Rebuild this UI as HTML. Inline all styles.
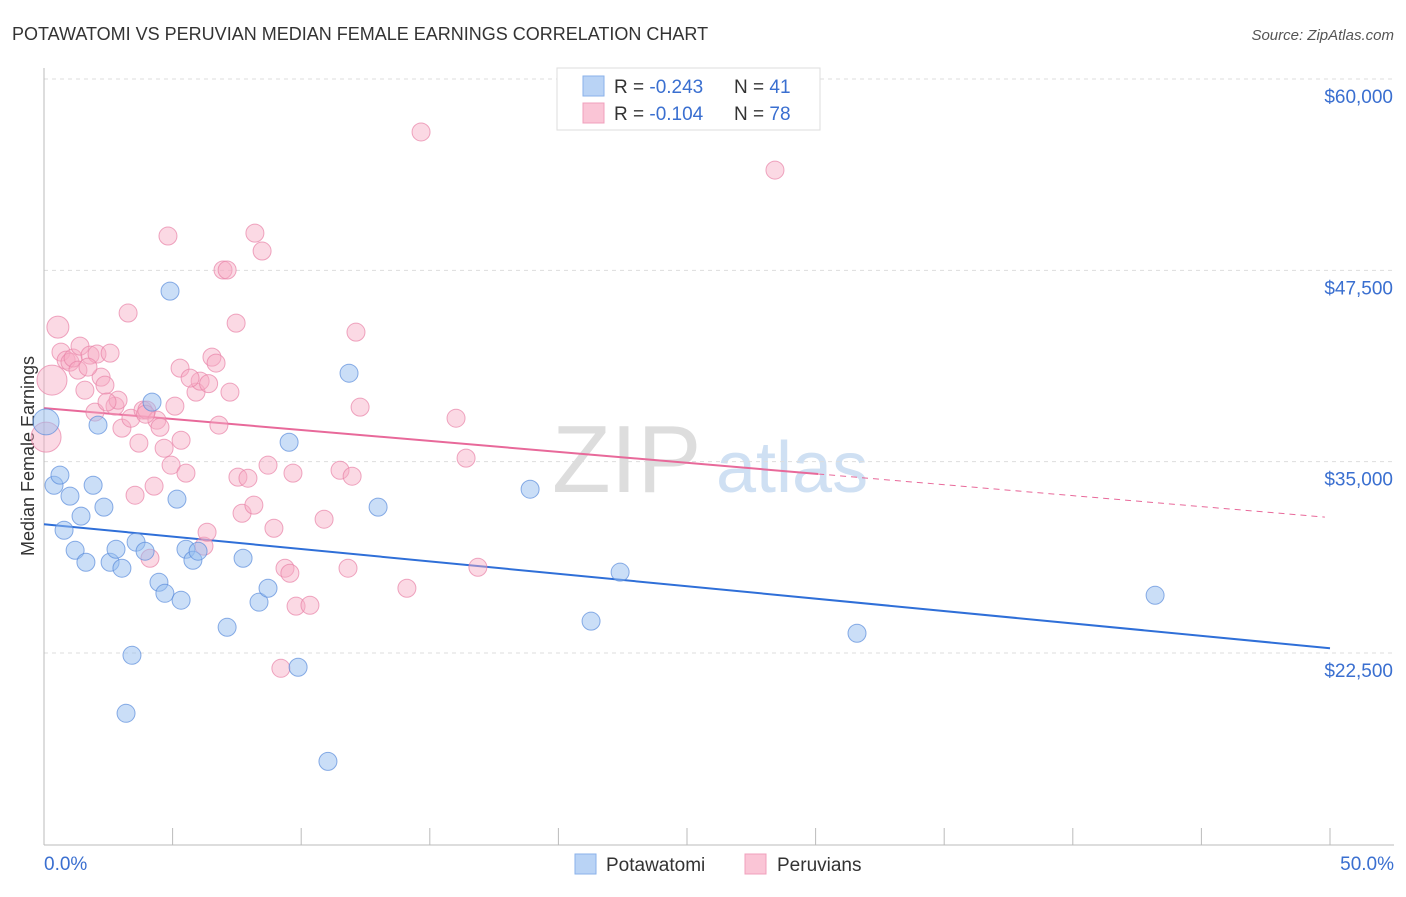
<!DOCTYPE html>
<html><head><meta charset="utf-8"><style>
body{margin:0;background:#fff;font-family:"Liberation Sans",sans-serif;}
svg text{font-family:"Liberation Sans",sans-serif;}
</style></head><body>
<svg id="chart" width="1406" height="892">
<text x="12" y="40" font-size="18" fill="#333">POTAWATOMI VS PERUVIAN MEDIAN FEMALE EARNINGS CORRELATION CHART</text>
<text x="1394" y="40" font-size="15" fill="#555" text-anchor="end" font-style="italic">Source: ZipAtlas.com</text>
<text x="0" y="0" transform="translate(34,456) rotate(-90)" font-size="18" fill="#333" text-anchor="middle">Median Female Earnings</text>
<g><text x="552" y="492" font-size="96" fill="#ddd" font-family="Liberation Serif">ZIP</text><text x="716" y="492" font-size="72" fill="#cfe0f3">atlas</text></g>
<g id="grid"></g><g id="axes"></g><g id="trends"></g><g id="points"></g>
<g>
<rect x="557" y="68" width="263" height="62" fill="#fff" stroke="#ddd"/>
<rect x="583" y="76" width="21" height="20" fill="#b9d3f5" stroke="#8ab2ea"/>
<rect x="583" y="103" width="21" height="20" fill="#fac5d6" stroke="#f0a0bc"/>
<text x="614" y="93" font-size="19" fill="#333">R = <tspan fill="#3a6fd0">-0.243</tspan></text>
<text x="734" y="93" font-size="19" fill="#333">N = <tspan fill="#3a6fd0"> 41</tspan></text>
<text x="614" y="120" font-size="19" fill="#333">R = <tspan fill="#3a6fd0">-0.104</tspan></text>
<text x="734" y="120" font-size="19" fill="#333">N = <tspan fill="#3a6fd0">78</tspan></text>
</g>
<g>
<rect x="575" y="854" width="21" height="20" fill="#b9d3f5" stroke="#8ab2ea"/>
<text x="606" y="871" font-size="19" fill="#333">Potawatomi</text>
<rect x="745" y="854" width="21" height="20" fill="#fac5d6" stroke="#f0a0bc"/>
<text x="777" y="871" font-size="19" fill="#333">Peruvians</text>
</g>
</svg>
<script>
const yTicks=[60000,47500,35000,22500];
const yTickLabels=["$60,000","$47,500","$35,000","$22,500"];
const xTickLabels=["0.0%","50.0%"];
const blueX=[0.08,0.39,0.62,1.01,0.78,1.21,1.44,1.63,1.91,2.10,2.33,2.57,2.80,3.03,3.19,3.42,3.58,3.93,4.20,4.47,4.70,4.90,5.17,5.33,5.52,5.79,5.99,7.12,7.74,8.36,8.71,9.53,9.88,11.04,11.86,12.99,18.90,21.27,22.40,31.61,43.20];
const blueY=[37600,33460,34120,32750,30520,29210,31440,28430,33460,37390,32030,28430,29280,28040,18560,22350,29740,29150,38890,27120,26400,46140,32550,25950,29280,28560,29150,24180,28690,25820,26730,36270,21570,15420,40780,32030,33200,24580,27780,23790,26270];
const pinkX=[0.08,0.31,0.54,0.66,0.86,1.01,1.13,1.32,1.40,1.59,1.79,1.98,2.06,2.22,2.37,2.57,2.76,2.88,3.03,3.27,3.38,3.54,3.69,3.85,4.00,4.12,4.28,4.39,4.51,4.67,4.82,4.94,5.09,5.29,5.33,5.52,5.91,6.07,6.22,6.34,6.53,6.69,6.80,6.96,7.12,7.23,7.47,7.54,7.70,7.93,8.16,8.20,8.48,8.71,8.94,9.21,9.37,9.56,9.68,9.80,10.34,10.89,11.51,11.82,11.98,12.13,12.29,14.11,14.66,16.02,16.41,16.87,28.42,1.71,5.68,2.45,3.95,6.40];
const pinkY=[36600,40330,43790,42160,41630,41500,41770,40980,42550,39670,41960,38240,42030,40520,40000,42090,38630,39020,37190,44710,37840,32810,36210,38370,38370,28690,33400,37710,37250,35880,49740,34770,38630,41110,36400,34250,39540,40260,29480,30390,41830,41440,37390,47520,47520,39540,44050,33990,31630,33920,32160,49930,48760,34770,30650,21500,28040,27710,34250,25560,25620,31240,34440,28040,34050,43460,38560,26730,56540,37840,35230,28100,54050,41180,40460,38900,38100,40100];
const pinkSize=[15,15,11,9,9,9,9,9,9,9,9,9,9,9,9,9,9,9,9,9,9,9,9,9,9,9,9,9,9,9,9,9,9,9,9,9,9,9,9,9,9,9,9,9,9,9,9,9,9,9,9,9,9,9,9,9,9,9,9,9,9,9,9,9,9,9,9,9,9,9,9,9,9,9,9,9,9,9];
const blueTrend=[30915,22810];
const pinkTrend=[38500,31350];
const pinkSolidEnd=30.1;
const X0=44,X1=1330,Ytop=79,Ybot=653;
const xs=v=>X0+(v/50)*(X1-X0);
const ys=v=>Ytop+(60000-v)/(60000-22500)*(Ybot-Ytop);
const NS="http://www.w3.org/2000/svg";
function mk(t,a,p){const e=document.createElementNS(NS,t);for(const k in a)e.setAttribute(k,a[k]);p.appendChild(e);return e;}
const grid=document.getElementById('grid'),axes=document.getElementById('axes');
yTicks.forEach((t,i)=>{
 const l=mk('line',{x1:X0,x2:1394,y1:ys(t),y2:ys(t),stroke:'#ddd','stroke-dasharray':'4,4'},grid);
 
 
 const tx=mk('text',{x:1393,y:ys(t)+24,'font-size':19,fill:'#3a6fd0','text-anchor':'end'},axes);
 tx.textContent=yTickLabels[i];
 
 
});
const ya=mk('line',{x1:X0,x2:X0,y1:68,y2:845,stroke:'#bbb'},axes);


const xa=mk('line',{x1:X0,x2:1394,y1:845,y2:845,stroke:'#bbb'},axes);


for(let p=5;p<=50;p+=5){const tk=mk('line',{x1:xs(p),x2:xs(p),y1:828,y2:845,stroke:'#bbb'},axes);
 
 }
[[0,'start',44],[50,'end',1394]].forEach((d,i)=>{const t=mk('text',{x:d[2],y:870,'font-size':19,fill:'#3a6fd0','text-anchor':d[1]},axes);t.textContent=xTickLabels[i];
 
 });
const pts=document.getElementById('points');
pinkX.forEach((x,i)=>{const c=mk('circle',{cx:xs(x),cy:ys(pinkY[i]),r:pinkSize[i],fill:'rgba(246,170,196,0.45)',stroke:'rgba(232,130,166,0.7)','stroke-width':1},pts);
 
 });
blueX.forEach((x,i)=>{const c=mk('circle',{cx:xs(x),cy:ys(blueY[i]),r:i==0?13:9,fill:'rgba(150,190,240,0.5)',stroke:'rgba(90,140,220,0.7)','stroke-width':1},pts);
 
 });
const tr=document.getElementById('trends');
const bl=mk('line',{x1:xs(0),y1:ys(blueTrend[0]),x2:xs(50),y2:ys(blueTrend[1]),stroke:'#2f6fd8','stroke-width':2},tr);


const pv=x=>pinkTrend[0]+(pinkTrend[1]-pinkTrend[0])*x/50;
const pl=mk('line',{x1:xs(0),y1:ys(pv(0)),x2:xs(pinkSolidEnd),y2:ys(pv(pinkSolidEnd)),stroke:'#e8699a','stroke-width':2},tr);


const pd=mk('line',{x1:xs(pinkSolidEnd),y1:ys(pv(pinkSolidEnd)),x2:xs(49.8),y2:ys(pv(49.8)),stroke:'#e8699a','stroke-width':1,'stroke-dasharray':'6,5'},tr);


</script>
</body></html>
